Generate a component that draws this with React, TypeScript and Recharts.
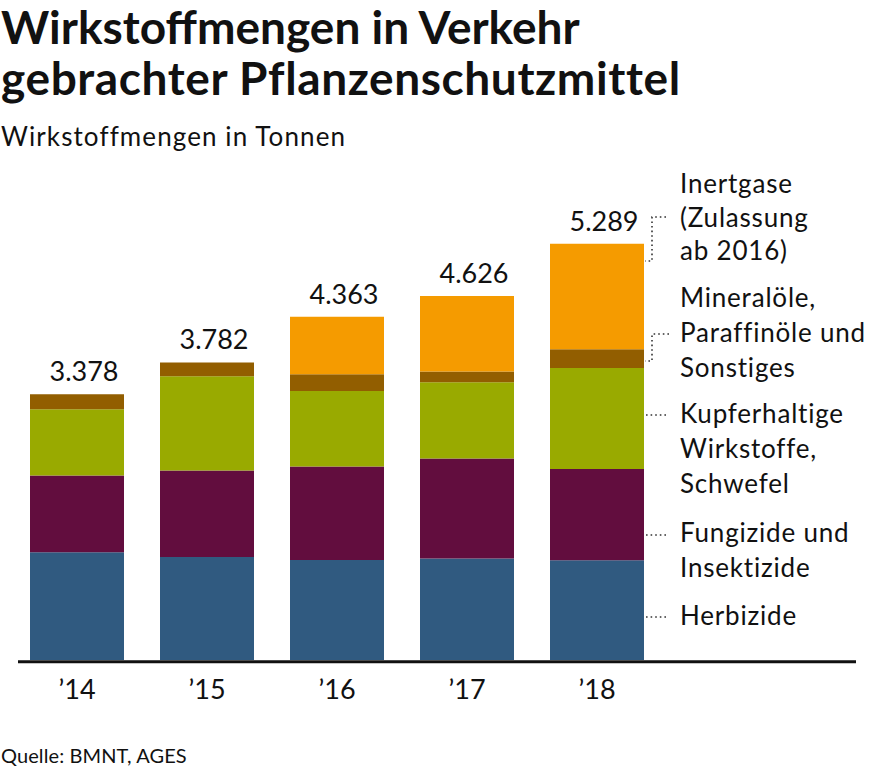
import React from "react";
import { BarChart, Bar, XAxis, YAxis, LabelList } from "recharts";

const years = ["’14", "’15", "’16", "’17", "’18"];
const herbizide = [1370, 1309, 1271, 1289, 1267];
const fungizide = [976, 1098, 1187, 1271, 1160];
const kupfer = [840, 1199, 961, 970, 1284];
const mineral = [192, 176, 212, 136, 238];
const inert = [0, 0, 732, 960, 1340];
const totals = [3378, 3782, 4363, 4626, 5289];
const totalLabels = ["3.378", "3.782", "4.363", "4.626", "5.289"];

const colors = {
  herbizide: "#305a80",
  fungizide: "#620d3e",
  kupfer: "#99aa00",
  mineral: "#925e00",
  inert: "#f59b00",
};

const data = years.map((y, i) => ({
  year: y,
  herbizide: herbizide[i],
  fungizide: fungizide[i],
  kupfer: kupfer[i],
  mineral: mineral[i],
  inert: inert[i],
  total: totals[i],
  totalLabel: totalLabels[i],
}));

const FONT = "Lato, 'Noto Sans', sans-serif";

const renderTotal = (x: any, y: any, width: any, value: any) => (
  <text
    x={Number(x) + Number(width) / 2 + 7}
    y={Number(y) - 13}
    textAnchor="middle"
    fontFamily={FONT}
    fontSize={27}
    fill="#111"
  >
    {value}
  </text>
);

// label on mineral bar only where there is no inert segment on top
const MineralTop = (props: any) => {
  const { x, y, width, value } = props;
  if (x == null || y == null) return null;
  const row = data.find((d) => d.totalLabel === value);
  if (!row || row.inert > 0) return null;
  return renderTotal(x, y, width, value);
};

const InertTop = (props: any) => {
  const { x, y, width, value } = props;
  if (x == null || y == null) return null;
  const row = data.find((d) => d.totalLabel === value);
  if (!row || row.inert <= 0) return null;
  return renderTotal(x, y, width, value);
};

const legendLines: { lines: string[]; baselines: number[] }[] = [
  { lines: ["Inertgase", "(Zulassung", "ab 2016)"], baselines: [193, 227, 260] },
  { lines: ["Mineralöle,", "Paraffinöle und", "Sonstiges"], baselines: [307, 342, 377] },
  { lines: ["Kupferhaltige", "Wirkstoffe,", "Schwefel"], baselines: [423, 458, 493] },
  { lines: ["Fungizide und", "Insektizide"], baselines: [542, 577] },
  { lines: ["Herbizide"], baselines: [625] },
];

export default function App() {
  const dot = { stroke: "#333", strokeWidth: 1.6, strokeDasharray: "1.6 3", fill: "none" };
  return (
    <div style={{ position: "absolute", left: 0, top: 0, width: 875, height: 771, background: "#fff" }}>
      <div style={{ position: "absolute", left: 0, top: 160 }}>
        <BarChart
          width={875}
          height={611}
          data={data}
          margin={{ top: 0, right: 213, bottom: 0, left: 12 }}
          barCategoryGap={18}
        >
          <YAxis hide domain={[0, 6355]} type="number" allowDataOverflow />
          <XAxis
            dataKey="year"
            height={111}
            axisLine={false}
            tickLine={false}
            tick={{ fontFamily: FONT, fontSize: 27, fill: "#111" }}
            dy={12}
          />
          <Bar dataKey="herbizide" stackId="a" fill={colors.herbizide} isAnimationActive={false} />
          <Bar dataKey="fungizide" stackId="a" fill={colors.fungizide} isAnimationActive={false} />
          <Bar dataKey="kupfer" stackId="a" fill={colors.kupfer} isAnimationActive={false} />
          <Bar dataKey="mineral" stackId="a" fill={colors.mineral} isAnimationActive={false}>
            <LabelList dataKey="totalLabel" content={<MineralTop />} />
          </Bar>
          <Bar dataKey="inert" stackId="a" fill={colors.inert} isAnimationActive={false}>
            <LabelList dataKey="totalLabel" content={<InertTop />} />
          </Bar>
        </BarChart>
      </div>
      <svg
        width={875}
        height={771}
        style={{ position: "absolute", left: 0, top: 0, pointerEvents: "none" }}
      >
        <text x={1} y={44} fontFamily={FONT} fontWeight={700} fontSize={46} fill="#111">
          Wirkstoffmengen in Verkehr
        </text>
        <text x={1} y={95} fontFamily={FONT} fontWeight={700} fontSize={46} fill="#111" letterSpacing={0.6}>
          gebrachter Pflanzenschutzmittel
        </text>
        <text x={1} y={146} fontFamily={FONT} fontSize={26} fill="#111" letterSpacing={1.1}>
          Wirkstoffmengen in Tonnen
        </text>
        <line x1={18} x2={856} y1={661.8} y2={661.8} stroke="#111" strokeWidth={3} />
        {legendLines.map((g, gi) =>
          g.lines.map((l, li) => (
            <text
              key={gi + "-" + li}
              x={680}
              y={g.baselines[li]}
              fontFamily={FONT}
              fontSize={26}
              fill="#111"
              letterSpacing={0.8}
            >
              {l}
            </text>
          ))
        )}
        <polyline points="666,217 652,217 652,261 645,261" {...dot} />
        <polyline points="669,334 652,334 652,361 645,361" {...dot} />
        <line x1={646} x2={669} y1={415} y2={415} {...dot} />
        <line x1={646} x2={669} y1={535} y2={535} {...dot} />
        <line x1={646} x2={669} y1={617} y2={617} {...dot} />
        <text x={1} y={763} fontFamily={FONT} fontSize={20} fill="#111" letterSpacing={0.1}>
          Quelle: BMNT, AGES
        </text>
      </svg>
    </div>
  );
}
